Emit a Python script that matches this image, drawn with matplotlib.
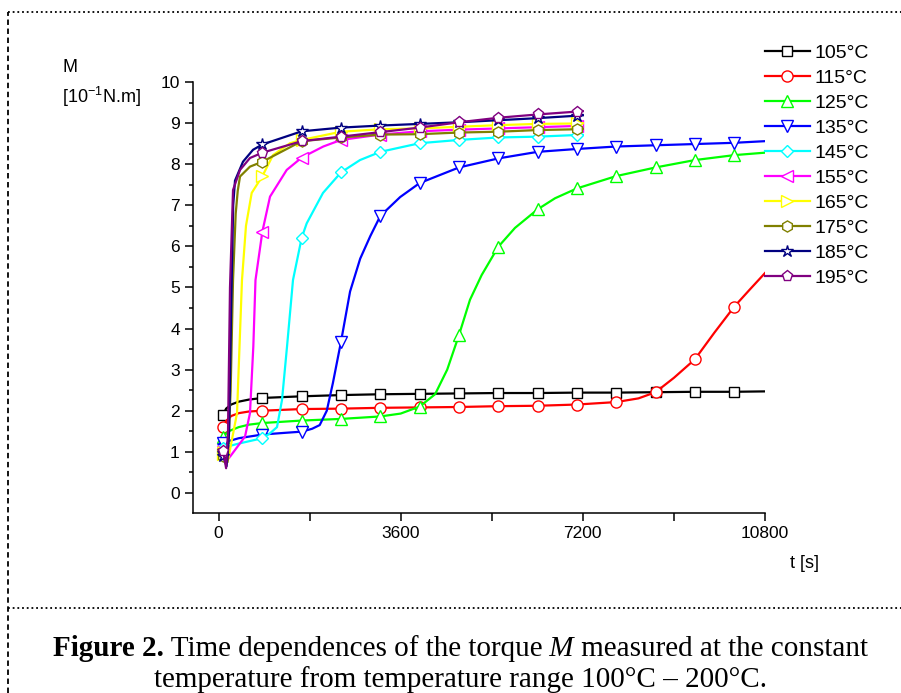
import matplotlib
matplotlib.use("Agg")
import matplotlib.pyplot as plt
from matplotlib.lines import Line2D
from matplotlib.ticker import MultipleLocator, FixedLocator

plt.rcParams['font.family'] = ['Liberation Sans', 'DejaVu Sans']
plt.rcParams['mathtext.fontset'] = 'custom'
plt.rcParams['mathtext.rm'] = 'Liberation Sans'
plt.rcParams['mathtext.default'] = 'regular'

# # times (s) where the instrument software put a marker
T_MARK = [90, 867, 1644, 2421, 3198, 3975, 4752, 5529, 6306, 7083, 7860, 8637, 9414, 10191]

# # torque curves (t in s, M in 10^-1 N.m)
t_105 = [30, 90, 150, 250, 400, 600, 867, 1644, 2421, 3198, 3975, 4752, 5529, 6306, 7083, 7860, 8637, 9414, 10191, 10800]
m_105 = [1.85, 1.9, 2.05, 2.15, 2.22, 2.27, 2.31, 2.35, 2.38, 2.40, 2.41, 2.42, 2.43, 2.43, 2.44, 2.44, 2.45, 2.46, 2.46, 2.47]

t_115 = [30, 90, 150, 250, 400, 600, 867, 1644, 2421, 3198, 3975, 4752, 5529, 6306, 7083, 7860, 8300, 8637, 9000, 9414, 9800, 10191, 10500, 10800]
m_115 = [1.55, 1.6, 1.75, 1.87, 1.94, 1.98, 2.0, 2.04, 2.05, 2.07, 2.08, 2.09, 2.11, 2.12, 2.15, 2.21, 2.3, 2.45, 2.8, 3.25, 3.9, 4.53, 4.95, 5.35]

t_125 = [30, 90, 200, 400, 600, 867, 1644, 2421, 3198, 3600, 3975, 4280, 4520, 4752, 4970, 5200, 5529, 5860, 6306, 6650, 7083, 7860, 8637, 9414, 10191, 10800]
m_125 = [1.3, 1.37, 1.5, 1.6, 1.66, 1.70, 1.76, 1.80, 1.86, 1.93, 2.10, 2.4, 3.0, 3.84, 4.7, 5.3, 5.99, 6.45, 6.90, 7.17, 7.41, 7.71, 7.92, 8.10, 8.22, 8.28]

t_135 = [0, 90, 400, 867, 1300, 1644, 1850, 2000, 2140, 2260, 2421, 2600, 2800, 3000, 3198, 3590, 3975, 4752, 5529, 6306, 7083, 7860, 8637, 9414, 10191, 10800]
m_135 = [1.18, 1.22, 1.33, 1.42, 1.46, 1.49, 1.56, 1.65, 2.0, 2.67, 3.68, 4.9, 5.7, 6.25, 6.74, 7.2, 7.54, 7.92, 8.14, 8.30, 8.37, 8.43, 8.46, 8.49, 8.52, 8.56]

t_145 = [0, 90, 400, 867, 1018, 1156, 1255, 1354, 1472, 1644, 1743, 2065, 2421, 2796, 3198, 3975, 4752, 5529, 6306, 7083, 7200]
m_145 = [1.05, 1.1, 1.2, 1.33, 1.45, 1.6, 2.26, 3.56, 5.18, 6.21, 6.56, 7.30, 7.80, 8.10, 8.30, 8.51, 8.59, 8.65, 8.67, 8.71, 8.71]

t_155 = [0, 90, 227, 524, 622, 688, 731, 867, 1018, 1348, 1644, 2071, 2421, 3198, 3975, 4752, 5529, 6306, 7083, 7200]
m_155 = [1.12, 1.0, 0.88, 1.37, 1.94, 3.56, 5.18, 6.36, 7.21, 7.86, 8.16, 8.43, 8.59, 8.72, 8.80, 8.84, 8.87, 8.90, 8.93, 8.93]

t_165 = [0, 90, 188, 366, 464, 543, 656, 867, 1077, 1413, 1644, 2421, 3198, 3975, 4752, 5529, 6306, 7083, 7200]
m_165 = [1.1, 0.95, 0.8, 1.94, 5.18, 6.5, 7.3, 7.71, 8.22, 8.51, 8.59, 8.79, 8.85, 8.87, 8.91, 8.95, 8.98, 8.99, 9.0]

t_175 = [0, 90, 180, 240, 287, 340, 380, 425, 622, 867, 1644, 2421, 3198, 3975, 4752, 5529, 6306, 7083, 7200]
m_175 = [1.05, 0.9, 0.75, 2.5, 5.18, 6.8, 7.35, 7.70, 7.94, 8.06, 8.56, 8.65, 8.72, 8.73, 8.77, 8.79, 8.83, 8.85, 8.86]

t_185 = [0, 90, 160, 210, 250, 290, 326, 484, 682, 867, 1644, 2421, 3198, 3975, 4752, 5529, 6306, 7083, 7200]
m_185 = [1.0, 0.9, 0.65, 1.5, 4.5, 7.0, 7.6, 8.06, 8.35, 8.48, 8.80, 8.89, 8.94, 8.98, 9.02, 9.07, 9.12, 9.18, 9.19]

t_195 = [0, 90, 150, 188, 227, 287, 425, 622, 867, 1644, 2421, 3198, 3975, 4752, 5529, 6306, 7083, 7200]
m_195 = [1.05, 1.03, 0.6, 1.5, 5.0, 7.37, 7.86, 8.15, 8.28, 8.56, 8.67, 8.78, 8.89, 9.02, 9.13, 9.21, 9.28, 9.29]

labels = ['105°C', '115°C', '125°C', '135°C', '145°C', '155°C', '165°C', '175°C', '185°C', '195°C']
colors = ['#000000', '#ff0000', '#00ff00', '#0000ff', '#00ffff', '#ff00ff', '#ffff00', '#808000', '#000080', '#800080']
markers = ['s', 'o', '^', 'v', 'D', '<', '>', 'h', '*', 'p']
msizes = [7, 8, 8, 8, 6.5, 8, 8, 8, 9, 8]

series_t = [t_105, t_115, t_125, t_135, t_145, t_155, t_165, t_175, t_185, t_195]
series_m = [m_105, m_115, m_125, m_135, m_145, m_155, m_165, m_175, m_185, m_195]

W, H = 901, 693
fig = plt.figure(figsize=(W / 100, H / 100), dpi=100)
fig.patch.set_facecolor('white')

# axes placed in pixels of the reference
x0, x1, ytop, ybot = 193, 765, 82, 513
ax = fig.add_axes([x0 / W, 1 - ybot / H, (x1 - x0) / W, (ybot - ytop) / H])

for t, m, lab, c, mk, ms in zip(series_t, series_m, labels, colors, markers, msizes):
    idx = [i for i, tt in enumerate(t) if tt in T_MARK]
    ax.plot(t, m, color=c, lw=1.6, marker=mk, markevery=idx, ms=ms,
            mfc='white', mec=c, mew=1.0, label=lab, solid_joinstyle='round')

ax.set_xlim(-504, 10800)
ax.set_ylim(-0.49, 10)
ax.xaxis.set_major_locator(FixedLocator([0, 3600, 7200, 10800]))
ax.xaxis.set_minor_locator(FixedLocator([1800, 5400, 9000]))
ax.yaxis.set_major_locator(MultipleLocator(1))
ax.yaxis.set_minor_locator(MultipleLocator(0.5))
ax.tick_params(axis='both', which='major', direction='out', length=6, width=1.1, labelsize=12.5)
ax.tick_params(axis='x', which='minor', direction='out', length=6, width=1.1)
ax.tick_params(axis='y', which='minor', direction='out', length=3, width=1.1)
ax.tick_params(axis='x', pad=3)
for s in ['top', 'right']:
    ax.spines[s].set_visible(False)
for s in ['left', 'bottom']:
    ax.spines[s].set_linewidth(1.1)

fig.text(62 / W, 1 - 67 / H, 'M', fontsize=13, va='center', ha='left')
fig.text(62 / W, 1 - 97 / H, '[10$^{-1}$N.m]', fontsize=13, va='center', ha='left')
fig.text(790 / W, 1 - 563 / H, 't [s]', fontsize=13, va='center', ha='left')

leg = ax.legend(loc='upper left', bbox_to_anchor=(765 / W, 1 - 44 / H), bbox_transform=fig.transFigure,
                frameon=False, fontsize=14, handlelength=2.3, handletextpad=0.25,
                labelspacing=0.38, borderpad=0, borderaxespad=0)

# dotted frame around figure + caption
dot = dict(color='black', lw=1.3, linestyle=(0, (1, 1.6)))
fig.add_artist(Line2D([8 / W, 1], [1 - 12 / H, 1 - 12 / H], transform=fig.transFigure, **dot))
fig.add_artist(Line2D([8 / W, 1], [1 - 608 / H, 1 - 608 / H], transform=fig.transFigure, **dot))
fig.add_artist(Line2D([8 / W, 8 / W], [0, 1 - 12 / H], transform=fig.transFigure,
                      color='black', lw=1.3, linestyle=(0, (3, 2))))


def caption_line(y_px, parts, size=21):
    r = fig.canvas.get_renderer()
    items = []
    for s, w, st in parts:
        tx = fig.text(0, 1 - y_px / H, s, fontsize=size, family='Liberation Serif',
                      weight=w, style=st, va='center', ha='left')
        items.append((tx, tx.get_window_extent(renderer=r).width))
    total = sum(wd for _, wd in items)
    x = (W - total) / 2 + 10
    for tx, wd in items:
        tx.set_x(x / W)
        x += wd


caption_line(649, [('Figure 2.', 'bold', 'normal'),
                   (' Time dependences of the torque', 'normal', 'normal'),
                   (' M', 'normal', 'italic'),
                   (' measured at the constant', 'normal', 'normal')])
caption_line(680, [('temperature from temperature range 100°C – 200°C.', 'normal', 'normal')])

fig.savefig('out.png', dpi=100)
